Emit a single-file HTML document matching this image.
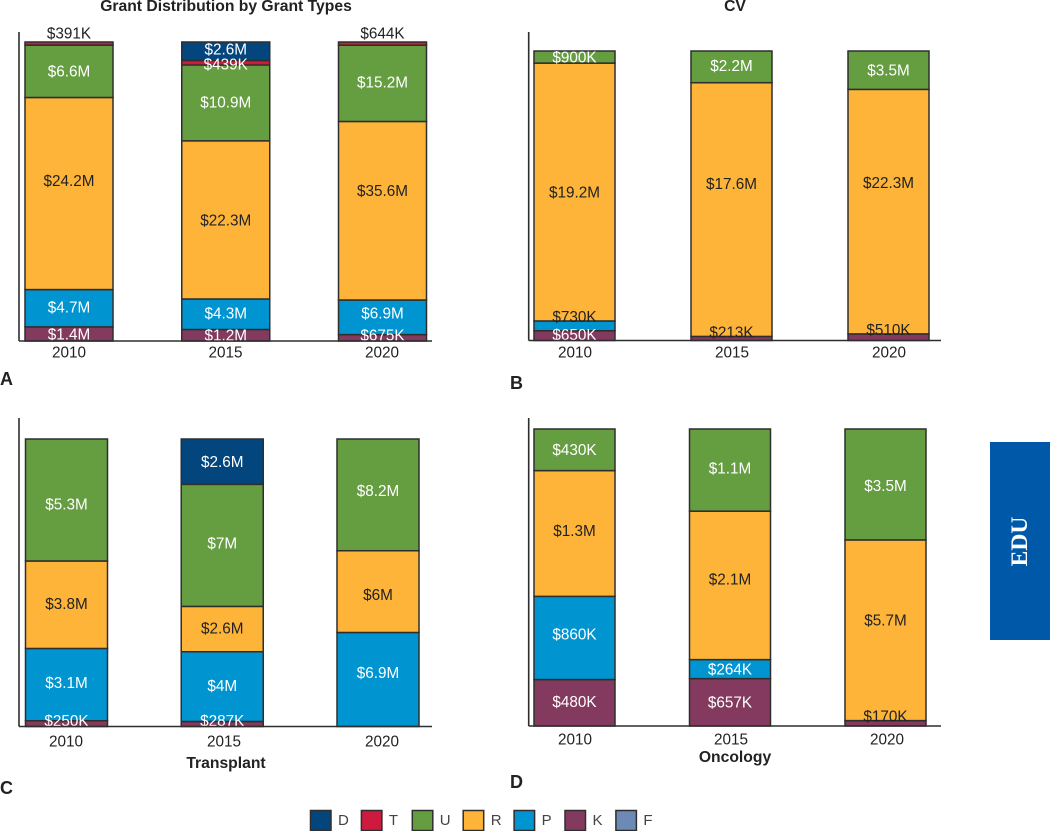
<!DOCTYPE html>
<html lang="en">
<head>
<meta charset="utf-8">
<title>Grant Distribution by Grant Types</title>
<style>
html,body{margin:0;padding:0;background:#fff;width:1050px;height:831px;overflow:hidden}
svg{display:block;font-family:"Liberation Sans",Arial,sans-serif}
</style>
</head>
<body>
<svg id="chart" width="1050" height="831" viewBox="0 0 1050 831">
  <text x="226" y="11" text-anchor="middle" font-size="15.7" font-weight="700" fill="#222">Grant Distribution by Grant Types</text>
  <text x="735" y="11" text-anchor="middle" font-size="15.7" font-weight="700" fill="#222">CV</text>
  <text x="226" y="768" text-anchor="middle" font-size="15.7" font-weight="700" fill="#222">Transplant</text>
  <text x="735" y="762" text-anchor="middle" font-size="15.7" font-weight="700" fill="#222">Oncology</text>
  <text x="0" y="385" font-size="18" font-weight="700" fill="#222">A</text>
  <text x="510" y="389" font-size="18" font-weight="700" fill="#222">B</text>
  <text x="0" y="794" font-size="18" font-weight="700" fill="#222">C</text>
  <text x="510" y="788" font-size="18" font-weight="700" fill="#222">D</text>
  <rect x="990" y="442" width="60" height="198" fill="#0059a8"></rect>
  <text transform="translate(1027 541.5) rotate(-90)" text-anchor="middle" font-family="'Liberation Serif',serif" font-size="23.5" font-weight="700" fill="#fff">EDU</text>
  <g id="panels"></g>
  <g id="legend"></g>
</svg>
<script>
// Categories and series definitions
const years = ['2010', '2015', '2020'];
const seriesKeys = ['K', 'P', 'R', 'U', 'T', 'D'];
const legendKeys = ['D', 'T', 'U', 'R', 'P', 'K', 'F'];

// Funding values in millions of dollars, one value per year
const gridK = [1.4, 1.2, 0.675];
const gridP = [4.7, 4.3, 6.9];
const gridR = [24.2, 22.3, 35.6];
const gridU = [6.6, 10.9, 15.2];
const gridT = [0.391, 0.439, 0.644];
const gridD = [0, 2.6, 0];

const cvK = [0.65, 0.213, 0.51];
const cvP = [0.73, 0, 0];
const cvR = [19.2, 17.6, 22.3];
const cvU = [0.9, 2.2, 3.5];
const cvT = [0, 0, 0];
const cvD = [0, 0, 0];

const transK = [0.25, 0.287, 0];
const transP = [3.14, 4, 6.9];
const transR = [3.8, 2.6, 6];
const transU = [5.3, 7, 8.2];
const transT = [0, 0, 0];
const transD = [0, 2.6, 0];

const oncK = [0.48, 0.657, 0.17];
const oncP = [0.86, 0.264, 0];
const oncR = [1.3, 2.06, 5.7];
const oncU = [0.43, 1.14, 3.5];
const oncT = [0, 0, 0];
const oncD = [0, 0, 0];

const colors = {D:'#03467d', T:'#ce1a3f', U:'#659d41', R:'#fdb439', P:'#0094d0', K:'#833a5e', F:'#6c8ab5'};
const stroke = '#2e2e2e';
const NS = 'http://www.w3.org/2000/svg';

// Layout-only tweaks: how far a printed label sits from its segment's centre
const labelNudge = {
  aR0:-13, aP0:-1, aD1:-2, aT1:1.5, aP1:-1, aU2:-1, aR2:-20, aP2:-4,
  bU1:-1, bR1:-26, bR2:-29, bK0:-1,
  cU0:4, cR0:-1, cP0:-2, cU1:-2, cR1:-1, cP1:-1, cU2:-4, cR2:3, cP2:-7,
  dR0:-3, dP0:-4, dK0:-1, dU1:-2, dR1:-6, dU2:1, dR2:-10
};

const panels = [
  {id:'a', data:{K:gridK,P:gridP,R:gridR,U:gridU,T:gridT,D:gridD}, lift:3, axisX:19, axisTop:32, axisRight:432, base:341, top:42, x0:69, step:156.75, w:88, tx0:69, tstep:156.5, ty:352},
  {id:'b', data:{K:cvK,P:cvP,R:cvR,U:cvU,T:cvT,D:cvD}, lift:1, axisX:528.7, axisTop:32, axisRight:941, base:340.5, top:51, x0:574.5, step:157, w:81, tx0:575, tstep:157, ty:352},
  {id:'c', data:{K:transK,P:transP,R:transR,U:transU,T:transT,D:transD}, lift:0, axisX:19, axisTop:418, axisRight:432, base:726.5, top:439, x0:66.5, step:155.75, w:82, tx0:66, tstep:158, ty:741},
  {id:'d', data:{K:oncK,P:oncP,R:oncR,U:oncU,T:oncT,D:oncD}, lift:0, axisX:528.7, axisTop:418, axisRight:941, base:726, top:429, x0:574.5, step:155.5, w:81, tx0:575, tstep:156, ty:739}
];

function fmtMoney(v) {
  if (v < 1) return '$' + Math.round(v * 1000) + 'K';
  return '$' + (Math.round(v * 10) / 10) + 'M';
}

function mk(tag, attrs, parent) {
  const el = document.createElementNS(NS, tag);
  for (const k in attrs) el.setAttribute(k, attrs[k]);
  parent.appendChild(el);
  return el;
}

const root = document.getElementById('panels');

panels.forEach(function (p) {
  const g = mk('g', {}, root);
  
  

  const zero = p.base - p.lift;
  const yScale = function (share) { return zero - share * (zero - p.top); };
  const xCenter = function (i) { return p.x0 + i * p.step; };
  const tickX = function (i) { return p.tx0 + i * p.tstep; };

  years.forEach(function (year, i) {
    const present = seriesKeys.filter(function (k) { return p.data[k][i] > 0; });
    const total = present.reduce(function (s, k) { return s + p.data[k][i]; }, 0);
    let cum = 0;
    const labelQueue = [];
    present.forEach(function (k, idx) {
      const v = p.data[k][i];
      let y0 = idx === 0 ? p.base : yScale(cum / total);
      cum += v;
      const y1 = yScale(cum / total);
      const above = present[idx + 1];
      if (k === 'T' && above) y0 += 1.5;
      const h = y0 - y1;
      const rect = mk('rect', {x: xCenter(i) - p.w / 2, y: y1, width: p.w, height: h, fill: colors[k], stroke: stroke, 'stroke-width': 1.5}, g);
      
      

      let cy = (y0 + y1) / 2 + (labelNudge[p.id + k + i] || 0);
      let fill = k === 'R' ? '#222' : '#fff';
      if (!above && h < 8) { cy = y1 - 9; fill = '#222'; }
      else if (above === 'R' && h < 10.5) { cy = y1 - 4.5; fill = '#222'; }
      else { cy = Math.min(cy, p.base - 6); }
      labelQueue.push({text: fmtMoney(v), x: xCenter(i), y: cy, fill: fill, k: k});
    });
    labelQueue.forEach(function (l) {
      const t = mk('text', {x: l.x, y: l.y, dy: '0.35em', 'text-anchor': 'middle', 'font-size': 15.3, fill: l.fill}, g);
      t.textContent = l.text;
      
      
    });
    const tick = mk('text', {x: tickX(i), y: p.ty, dy: '0.35em', 'text-anchor': 'middle', 'font-size': 15.3, fill: '#222'}, g);
    tick.textContent = year;
    
    
  });

  const yAxis = mk('line', {x1: p.axisX, x2: p.axisX, y1: p.axisTop, y2: p.base, stroke: stroke, 'stroke-width': 1.6}, g);
  
  
  const xAxis = mk('line', {x1: p.axisX, x2: p.axisRight, y1: p.base, y2: p.base, stroke: stroke, 'stroke-width': 1.6}, g);
  
  
});

const legend = document.getElementById('legend');
legendKeys.forEach(function (k, i) {
  const x = 310.5 + i * 50.9;
  const entry = mk('g', {}, legend);
  
  
  const sw = mk('rect', {x: x, y: 810.5, width: 20.5, height: 20, fill: colors[k], stroke: stroke, 'stroke-width': 1.5}, entry);
  
  
  const t = mk('text', {x: x + 27.5, y: 825, 'font-size': 15, fill: '#444'}, entry);
  t.textContent = k;
  
  
});
</script>
</body>
</html>
